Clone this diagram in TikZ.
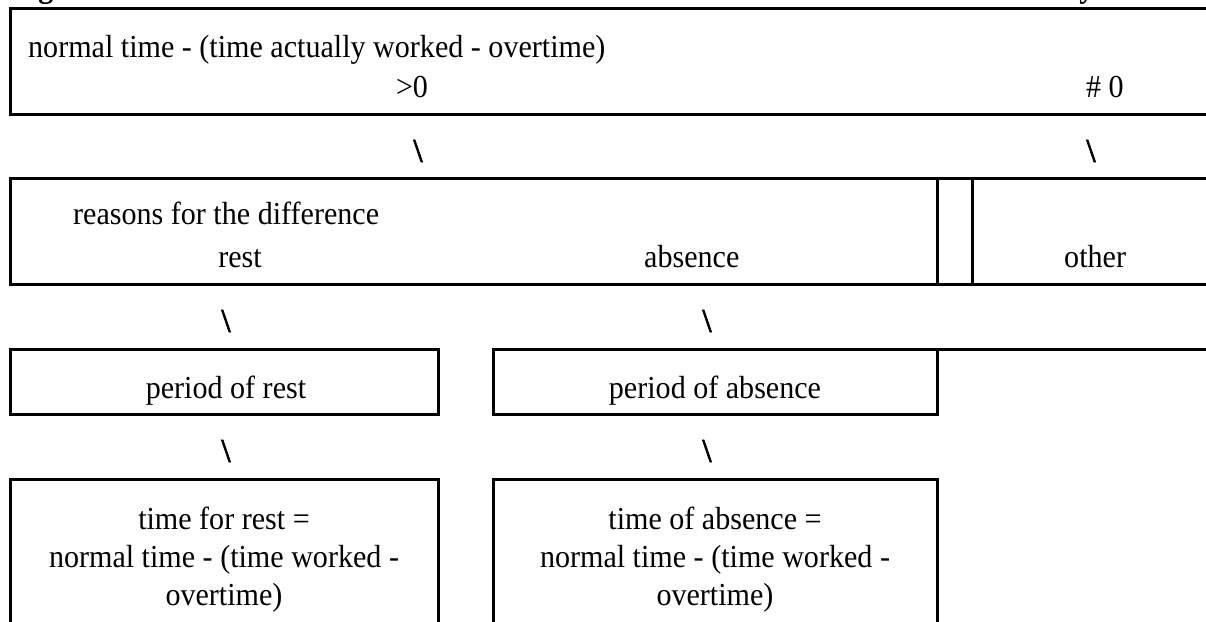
\documentclass[tikz,border=0pt]{standalone}
\usepackage{fontspec}
\setmainfont{Liberation Serif}[FakeStretch=0.94]
\newfontfamily\slashfont{Liberation Serif}[FakeBold=2.5]
\begin{document}
\begin{tikzpicture}[x=1pt,y=-1pt,
  rule/.style={line width=3pt,line cap=rect},
  txt/.style={anchor=base,inner sep=0pt,font=\fontsize{32}{38}\selectfont},
  txtl/.style={anchor=base west,inner sep=0pt,font=\fontsize{32}{38}\selectfont},
  slash/.style={inner sep=0pt,font=\slashfont\fontsize{33}{38}\selectfont},
  capfrag/.style={anchor=base,inner sep=0pt,font=\fontsize{32}{38}\selectfont\bfseries}]
\useasboundingbox (0,0) rectangle (1206,621);
\clip (0,0) rectangle (1206,621);
% coordinates of the table rules
\coordinate (r1tl) at (10,8.5);
\coordinate (r1tr) at (1210,8.5);
\coordinate (r1bl) at (10,114);
\coordinate (r1br) at (1210,114);
\coordinate (r2tl) at (10,178);
\coordinate (r2tr) at (1210,178);
\coordinate (r2bl) at (10,284);
\coordinate (r2br) at (1210,284);
\coordinate (d1t) at (937,178);
\coordinate (d1b) at (937,284);
\coordinate (d2t) at (972,178);
\coordinate (d2b) at (972,284);
\coordinate (atl) at (10,349);
\coordinate (atr) at (438,349);
\coordinate (abr) at (438,414);
\coordinate (abl) at (10,414);
\coordinate (btl) at (493,349);
\coordinate (btr) at (1210,349);
\coordinate (bcr) at (937,349);
\coordinate (bbr) at (937,414);
\coordinate (bbl) at (493,414);
\coordinate (ctl) at (10,479);
\coordinate (ctr) at (438,479);
\coordinate (cbl) at (10,630);
\coordinate (cbr) at (438,630);
\coordinate (dtl) at (493,479);
\coordinate (dtr) at (937,479);
\coordinate (dbl) at (493,630);
\coordinate (dbr) at (937,630);
% row 1
\draw[rule] (r1tr) -- (r1tl) -- (r1bl) -- (r1br);
% row 2
\draw[rule] (r2tr) -- (r2tl) -- (r2bl) -- (r2br);
\draw[rule] (d1t) -- (d1b);
\draw[rule] (d2t) -- (d2b);
% row 3
\draw[rule] (atl) -- (atr) -- (abr) -- (abl) -- cycle;
\draw[rule] (btr) -- (btl) -- (bbl) -- (bbr) -- (bcr);
% row 4
\draw[rule] (cbl) -- (ctl) -- (ctr) -- (cbr);
\draw[rule] (dbl) -- (dtl) -- (dtr) -- (dbr);
% caption descenders cut by the top edge
\node[capfrag] (capg) at (46,-2) {g};
\node[capfrag] (capy) at (1087,-2) {y};
% texts
\node[txtl] (t1) at (28,57) {normal time - (time actually worked - overtime)};
\node[txt] (gt) at (412,97) {>0};
\node[txt] (le) at (1105,97) {\# 0};
\node[slash] (s1) at (418,151) {\textbackslash};
\node[slash] (s2) at (1091,151) {\textbackslash};
\node[txtl] (reasons) at (73,224) {reasons for the difference};
\node[txt] (rest) at (240,267) {rest};
\node[txtl] (absence) at (644,267) {absence};
\node[txtl] (other) at (1064,267) {other};
\node[slash] (s3) at (226,321) {\textbackslash};
\node[slash] (s4) at (707,321) {\textbackslash};
\node[txt] (prest) at (226,398) {period of rest};
\node[txt] (pabs) at (715,398) {period of absence};
\node[slash] (s5) at (226,451) {\textbackslash};
\node[slash] (s6) at (707,451) {\textbackslash};
\node[txt] (tr1) at (224,529) {time for rest =};
\node[txt] (tr2) at (224,567) {normal time - (time worked -};
\node[txt] (tr3) at (224,605) {overtime)};
\node[txt] (ta1) at (715,529) {time of absence =};
\node[txt] (ta2) at (715,567) {normal time - (time worked -};
\node[txt] (ta3) at (715,605) {overtime)};
\end{tikzpicture}
\end{document}
